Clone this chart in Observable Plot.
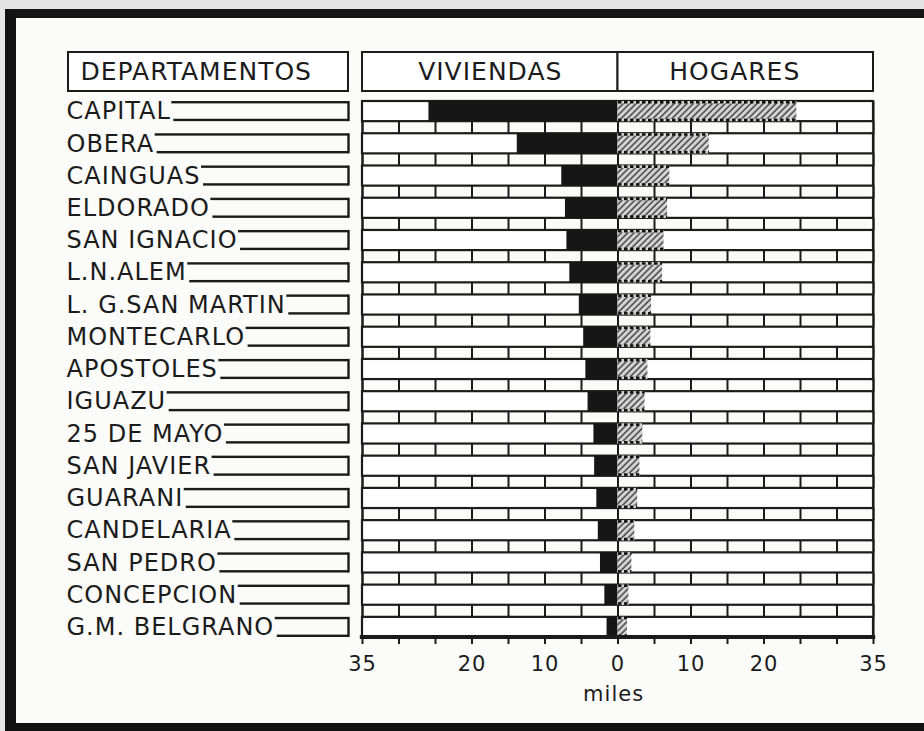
<!DOCTYPE html>
<html><head><meta charset="utf-8">
<script src="https://cdn.jsdelivr.net/npm/d3@7"></script>
<script src="https://cdn.jsdelivr.net/npm/@observablehq/plot@0.6"></script>
<style>
html,body{margin:0;padding:0;background:#e6e6e6;}
#wrap{position:relative;width:924px;height:731px;overflow:hidden;background:#e4e4e4;}
#paper{position:absolute;left:5px;top:9px;width:925px;height:722px;background:#fbfbfa;border-left:11px solid #121212;border-top:9px solid #151515;border-bottom:8px solid #121212;box-sizing:border-box;}
#chart{position:absolute;left:0;top:0;}
g[aria-label="axis-label"] text{letter-spacing:3px;}
g[aria-label="tick-labels"] text{letter-spacing:0px;}
g[aria-label="header-text"] text{letter-spacing:1.5px;}
</style></head><body>
<div id="wrap"><div id="paper"></div><div id="chart"></div></div>
<script>
// ---- data ----
const departamentos = ["CAPITAL","OBERA","CAINGUAS","ELDORADO","SAN IGNACIO","L.N.ALEM","L. G.SAN MARTIN","MONTECARLO","APOSTOLES","IGUAZU","25 DE MAYO","SAN JAVIER","GUARANI","CANDELARIA","SAN PEDRO","CONCEPCION","G.M. BELGRANO"];
const viviendas = [25.9, 13.8, 7.7, 7.2, 7.0, 6.6, 5.3, 4.7, 4.4, 4.1, 3.3, 3.2, 2.9, 2.7, 2.4, 1.8, 1.5];
const hogares   = [24.5, 12.5, 7.1, 6.8, 6.3, 6.1, 4.6, 4.5, 4.1, 3.7, 3.4, 3.0, 2.7, 2.3, 1.9, 1.5, 1.3];
const tickValues = [-35,-30,-25,-20,-15,-10,-5,0,5,10,15,20,25,30,35];
const tickLabels = [-35,-20,-10,0,10,20,35];
const headers = ["VIVIENDAS","HOGARES"];
const columnTitle = "DEPARTAMENTOS";
const axisLabel = "miles";

// ---- layout / style ----
const W = 924, H = 731;
const mL = 362, mR = 51, mT = 101, mB = 94;
const ink = "#1b1b1b";
const labelSize = 24, labelSpacing = 1;
const xs = Plot.scale({x: {domain: [-35, 35], range: [mL, W - mR]}});
const inv = px => xs.invert(px);
const ctx = document.createElement("canvas").getContext("2d");
ctx.font = `${labelSize}px "DejaVu Sans"`;
const textW = s => ctx.measureText(s).width + labelSpacing * s.length;

const rows = departamentos.map((d, i) => ({dep: d, viv: viviendas[i], hog: hogares[i]}));
const bricks = departamentos.slice(0, -1).flatMap(d => tickValues.map(t => ({dep: d, x: t})));
const colLeft = 66, colRight = 348;
const step = (H - mT - mB) / (departamentos.length - 0.375);
const bw = step * 0.625;

const plot = Plot.plot({
  width: W, height: H,
  marginLeft: mL, marginRight: mR, marginTop: mT, marginBottom: mB,
  style: {background: "transparent", fontFamily: '"DejaVu Sans", sans-serif', color: ink, letterSpacing: `${labelSpacing}px`, overflow: "visible"},
  x: {domain: [-35, 35], axis: null},
  y: {domain: departamentos, paddingInner: 0.375, paddingOuter: 0, round: false, axis: null},
  marks: [
    // header boxes
    Plot.rect([columnTitle], {x1: () => inv(68), x2: () => inv(colRight), insetTop: -49, insetBottom: 546, fill: "white", stroke: ink, strokeWidth: 2}),
    Plot.rect(headers, {x1: (d, i) => i ? 0 : -35, x2: (d, i) => i ? 35 : 0, insetTop: -49, insetBottom: 546, fill: "white", stroke: ink, strokeWidth: 2}),
    Plot.text([columnTitle], {x: () => inv(80), text: d => d, frameAnchor: "top", lineAnchor: "middle", dy: -30, textAnchor: "start", fontSize: 25, fill: ink, ariaLabel: "header-text"}),
    Plot.text(headers, {x: (d, i) => i ? 16 : -17.5, text: d => d, frameAnchor: "top", lineAnchor: "middle", dy: -30, fontSize: 25, fill: ink, ariaLabel: "header-text"}),
    // frame verticals and centre line
    Plot.ruleX([-35, 0, 35], {stroke: ink, strokeWidth: 2}),
    // brick strips between rows
    Plot.tickX(bricks, {x: "x", y: "dep", dy: step - bw, insetTop: 2 * bw - step, stroke: ink, strokeWidth: 2}),
    // row boxes
    Plot.barX(rows, {x1: -35, x2: 35, y: "dep", fill: "white", stroke: ink, strokeWidth: 2.2}),
    // viviendas (left)
    Plot.barX(rows, {x1: d => -d.viv, x2: 0, y: "dep", fill: "#161616"}),
    // hogares (right, hatched)
    Plot.barX(rows, {x1: 0, x2: "hog", y: "dep", fill: "url(#hatch)"}),
    Plot.barX(rows, {x1: 0, x2: "hog", y: "dep", insetBottom: bw - 2.5, fill: "url(#dots)"}),
    Plot.barX(rows, {x1: 0, x2: "hog", y: "dep", insetTop: bw - 2.5, fill: "url(#dots)"}),
    // thick base line
    Plot.rect([0], {x1: -35.3, x2: 35.3, insetTop: H - mT - mB - 2, insetBottom: -2, fill: ink}),
    // ticks and tick labels
    Plot.axisX(tickValues, {tickSize: 7, tickFormat: () => "", stroke: ink, strokeWidth: 2}),
    Plot.axisX(tickLabels, {tickSize: 0, tickPadding: 19, tickFormat: d => Math.abs(d), fontSize: 21, fill: ink, ariaLabel: "tick-labels"}),
    Plot.text([axisLabel], {x: -0.6, text: d => d, frameAnchor: "bottom", lineAnchor: "middle", dy: 57, fontSize: 21, fill: ink, ariaLabel: "axis-label"}),
    // category labels with their leader boxes
    Plot.text(rows, {x: () => inv(colLeft), y: "dep", text: "dep", textAnchor: "start", fontSize: labelSize, fill: ink}),
    Plot.barX(rows, {x1: d => inv(colLeft + textW(d.dep) + 1), x2: () => inv(colRight), y: "dep", insetBottom: bw - 2.4, fill: ink}),
    Plot.barX(rows, {x1: d => inv(colLeft + textW(d.dep) + 3), x2: () => inv(colRight), y: "dep", insetTop: bw - 2.4, fill: ink}),
    Plot.tickX(rows, {x: () => inv(colRight), y: "dep", stroke: ink, strokeWidth: 2.4})
  ]
});

plot.insertAdjacentHTML("afterbegin", `<defs>
<pattern id="hatch" patternUnits="userSpaceOnUse" width="4.5" height="4.5" patternTransform="rotate(45)">
<rect width="4.5" height="4.5" fill="#d4d4d4"/><line x1="1" y1="0" x2="1" y2="4.5" stroke="#444" stroke-width="1.5"/></pattern>
<pattern id="dots" patternUnits="userSpaceOnUse" width="6" height="6">
<rect width="6" height="6" fill="#d4d4d4"/><rect width="3.5" height="6" fill="#111"/></pattern>
</defs>`);
document.getElementById("chart").appendChild(plot);
</script>
</body></html>
